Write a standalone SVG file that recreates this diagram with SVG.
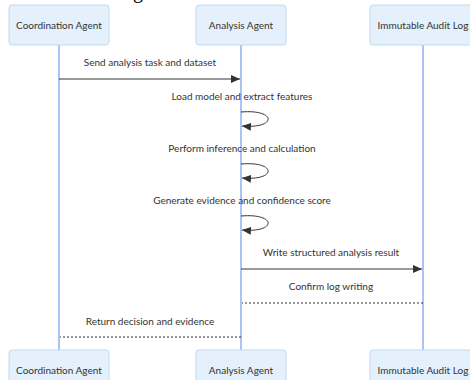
<svg xmlns="http://www.w3.org/2000/svg" width="470" height="380" viewBox="0 0 470 380">
<style>
.box{fill:#e4f0fc;stroke:#c3d8f0;stroke-width:1}
.life{stroke:#8cb0f2;stroke-width:1.5;fill:none}
.lbl{font-family:"Lato","Liberation Sans",sans-serif;font-size:10px;fill:#333;text-anchor:middle}
.msg{stroke:#333;stroke-width:1;fill:none}
.dash{stroke:#333;stroke-width:1;stroke-dasharray:2,2;fill:none}
</style>
<defs>
<marker id="ah" markerWidth="10" markerHeight="8" refX="9" refY="4" orient="auto" markerUnits="userSpaceOnUse">
<path d="M0,0 L9,4 L0,8 Z" fill="#333"/>
</marker>
</defs>
<rect width="470" height="380" fill="#fff"/>
<text x="138" y="-2" font-family="Liberation Serif,serif" font-size="20" fill="#000" text-anchor="middle">g</text>
<g id="lifelines">
<line class="life" x1="59" y1="45" x2="59" y2="350"/>
<line class="life" x1="241" y1="45" x2="241" y2="350"/>
<line class="life" x1="423" y1="45" x2="423" y2="350"/>
</g>
<g id="coordination-top"><rect class="box" x="9" y="5" width="100" height="40" rx="3"/><text class="lbl" x="59" y="29">Coordination Agent</text></g>
<g id="analysis-top"><rect class="box" x="196" y="5" width="90" height="40" rx="3"/><text class="lbl" x="241" y="29">Analysis Agent</text></g>
<g id="audit-top"><rect class="box" x="370" y="5" width="104" height="40" rx="3"/><text class="lbl" x="423" y="29">Immutable Audit Log</text></g>
<g id="coordination-bottom"><rect class="box" x="9" y="350" width="100" height="40" rx="3"/><text class="lbl" x="59" y="374">Coordination Agent</text></g>
<g id="analysis-bottom"><rect class="box" x="196" y="350" width="90" height="40" rx="3"/><text class="lbl" x="241" y="374">Analysis Agent</text></g>
<g id="audit-bottom"><rect class="box" x="370" y="350" width="104" height="40" rx="3"/><text class="lbl" x="423" y="374">Immutable Audit Log</text></g>
<g id="connectors">
<text class="lbl" x="150" y="66">Send analysis task and dataset</text>
<line class="msg" x1="59" y1="79" x2="240" y2="79" marker-end="url(#ah)"/>
<text class="lbl" x="242" y="100">Load model and extract features</text>
<path class="msg" d="M241,112 C277,109 277,129 242,126" marker-end="url(#ah)"/>
<text class="lbl" x="242" y="152">Perform inference and calculation</text>
<path class="msg" d="M241,164 C277,161 277,181 242,178" marker-end="url(#ah)"/>
<text class="lbl" x="242" y="204">Generate evidence and confidence score</text>
<path class="msg" d="M241,216 C277,213 277,233 242,230" marker-end="url(#ah)"/>
<text class="lbl" x="331" y="256">Write structured analysis result</text>
<line class="msg" x1="241" y1="269" x2="422" y2="269" marker-end="url(#ah)"/>
<text class="lbl" x="331" y="290">Confirm log writing</text>
<line class="dash" x1="423" y1="303" x2="242" y2="303"/>
<text class="lbl" x="150" y="325">Return decision and evidence</text>
<line class="dash" x1="241" y1="337" x2="60" y2="337"/>
</g>
</svg>
